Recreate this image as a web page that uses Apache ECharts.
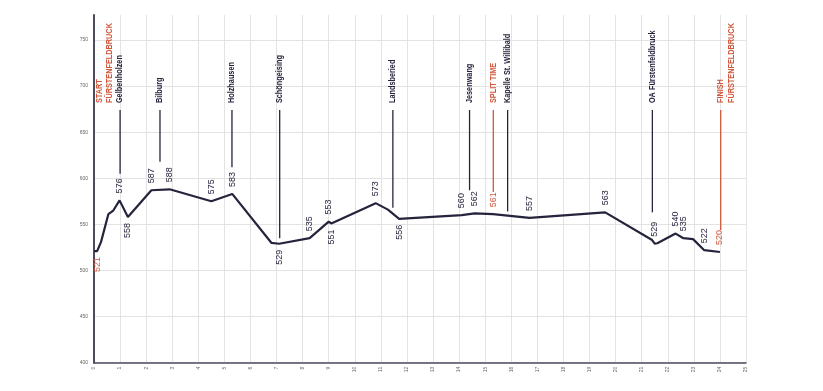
<!DOCTYPE html>
<html><head><meta charset="utf-8">
<script src="https://cdn.jsdelivr.net/npm/echarts@6/dist/echarts.min.js"></script>
<style>html,body{margin:0;padding:0;background:#fff}#c{width:823px;height:391px}</style>
</head><body><div id="c"></div>
<script>
// Elevation profile (km, metres)
const profileKm   = [0, 0.12, 0.27, 0.55, 0.74, 0.98, 1.3, 2.2, 2.9, 4.5, 5.3, 6.8, 7.1, 8.27, 9.0, 9.1, 10.8, 11.27, 11.7, 14.1, 14.6, 15.3, 16.7, 19.6, 21.4, 21.5, 21.6, 22.3, 22.6, 22.97, 23.4, 24.0];
const profileElev = [521, 521, 531, 561, 565, 576, 558, 587, 588, 575, 583, 530, 529, 535, 553, 551, 573, 566, 556, 560, 562, 561, 557, 563, 533, 529, 529.5, 540, 535, 534, 522, 520];

// Spot heights written on the profile
const spotKm   = [0.12, 0.98, 1.3, 2.2, 2.9, 4.5, 5.3, 7.1, 8.27, 9.0, 9.1, 10.8, 11.7, 14.1, 14.6, 15.3, 16.7, 19.6, 21.5, 22.3, 22.6, 23.4, 24.0];
const spotElev = [521, 576, 558, 587, 588, 575, 583, 529, 535, 553, 551, 573, 556, 560, 562, 561, 557, 563, 529, 540, 535, 522, 520];
const spotBelowKm = [0.12, 1.3, 7.1, 9.1, 11.7];
const spotRedKm   = [0.12, 15.3, 24.0];

// Places along the route
const placeNames = ['START\nFÜRSTENFELDBRUCK', 'Gelbenholzen', 'Bilburg', 'Holzhausen', 'Schöngeising', 'Landsberied', 'Jesenwang', 'SPLIT TIME', 'Kapelle St. Willibald', 'OA Fürstenfeldbruck', 'FINISH\nFÜRSTENFELDBRUCK'];
const placeKm    = [0, 1.0, 2.53, 5.29, 7.12, 11.46, 14.4, 15.31, 15.86, 21.41, 24.03];
const placeLineEnd = [null, 605, 618, 612, 535, 568, 587, 585, 564, 563, 544];
const placeRed   = [true, false, false, false, false, false, false, true, false, false, true];

const NAVY = '#25243d';
const RED = '#d0583c';
const LINE_TOP = 674;
const TEXT_START = 681.5;
const NAME_FONT = '"Liberation Sans", Arial, sans-serif';

const chart = echarts.init(document.getElementById('c'), null, {renderer: 'canvas'});

function renderPlace(params, api) {
  const i = params.dataIndex;
  const x = api.coord([placeKm[i], 600])[0];
  const color = placeRed[i] ? RED : NAVY;
  const children = [];
  const hasLine = placeLineEnd[i] != null;
  if (hasLine) {
    const yTop = api.coord([placeKm[i], LINE_TOP])[1];
    const yBot = api.coord([placeKm[i], placeLineEnd[i]])[1];
    children.push({type: 'line', shape: {x1: x, y1: yTop, x2: x, y2: yBot},
      style: {stroke: color, lineWidth: 1.3}});
  }
  const multi = placeNames[i].indexOf('\n') >= 0;
  const yText = api.coord([placeKm[i], TEXT_START])[1];
  children.push({type: 'text', x: multi ? (hasLine ? x - 5.25 : x) : x, y: yText,
    rotation: Math.PI / 2, scaleX: 0.86,
    style: {text: placeNames[i], fill: color, fontSize: 8.5, fontWeight: 'bold', fontFamily: NAME_FONT,
      align: 'left', verticalAlign: multi ? 'top' : 'middle', lineHeight: 10.5}});
  return {type: 'group', children: children};
}

function renderSpot(params, api) {
  const i = params.dataIndex;
  const p = api.coord([spotKm[i], spotElev[i]]);
  const below = spotBelowKm.indexOf(spotKm[i]) >= 0;
  const red = spotRedKm.indexOf(spotKm[i]) >= 0;
  return {type: 'text', x: p[0], y: below ? p[1] + 6 : p[1] - 7, rotation: Math.PI / 2,
    style: {text: String(spotElev[i]), fill: red ? RED : NAVY, fontSize: 9, fontFamily: '"Liberation Sans", sans-serif',
      align: below ? 'right' : 'left', verticalAlign: 'middle'}};
}

chart.setOption({
  animation: false,
  grid: {left: 94, right: 77, top: 15, bottom: 28.3, outerBoundsMode: 'none'},
  xAxis: {type: 'value', min: 0, max: 25, interval: 1,
    axisLine: {show: true, onZero: false, lineStyle: {color: '#4b4b5d', width: 1.5}},
    axisTick: {show: false},
    splitLine: {show: true, lineStyle: {color: '#e3e3e3', width: 1}},
    axisLabel: {fontSize: 5, color: '#666', rotate: 90, margin: 4}},
  yAxis: {type: 'value', min: 400, max: 777, interval: 50,
    axisLine: {show: true, lineStyle: {color: '#4b4b5d', width: 2}},
    axisTick: {show: false},
    splitLine: {show: true, showMaxLine: false, lineStyle: {color: '#e3e3e3', width: 1}},
    axisLabel: {fontSize: 5, color: '#666', margin: 6, showMaxLabel: false}},
  series: [
    {type: 'line', data: profileKm.map((k, i) => [k, profileElev[i]]), showSymbol: false, symbol: 'none',
      lineStyle: {color: NAVY, width: 2.2}, z: 3},
    {type: 'custom', renderItem: renderPlace, data: placeKm.map((k, i) => [k, placeLineEnd[i] == null ? LINE_TOP : placeLineEnd[i]]),
      encode: {x: 0, y: 1}, z: 4, silent: true},
    {type: 'custom', renderItem: renderSpot, data: spotKm.map((k, i) => [k, spotElev[i]]),
      encode: {x: 0, y: 1}, z: 4, silent: true}
  ]
});
</script>
</body></html>
